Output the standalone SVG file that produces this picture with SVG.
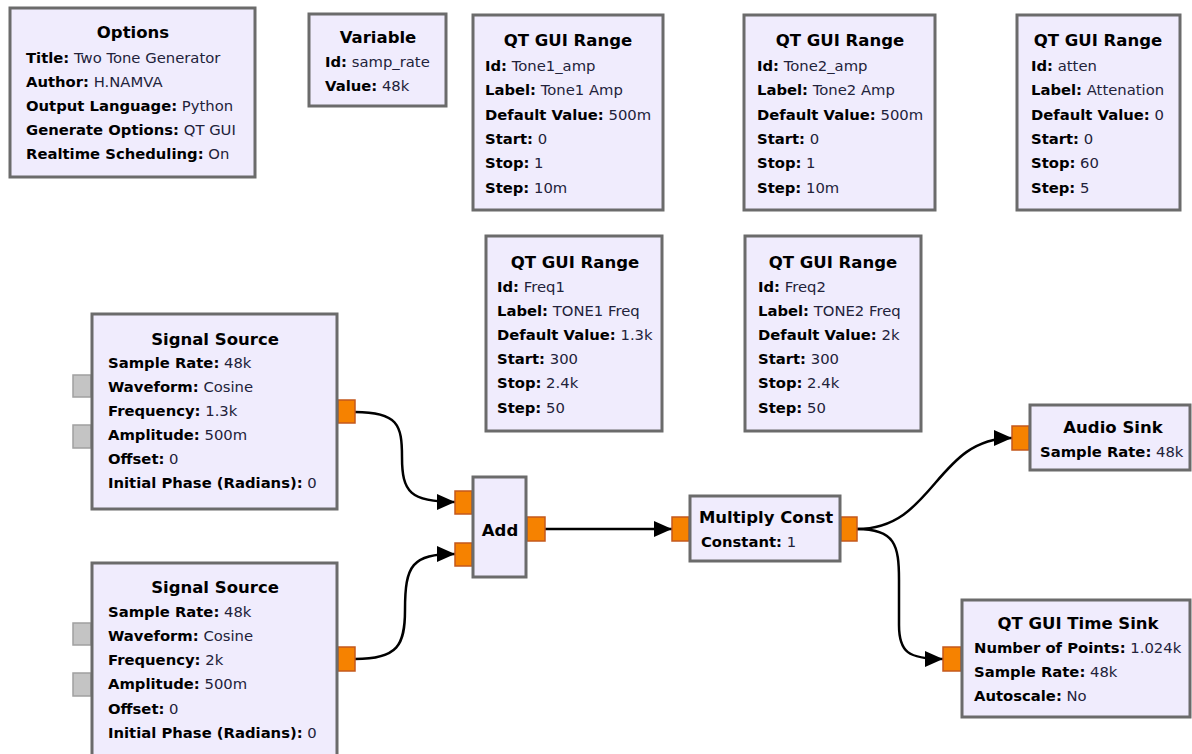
<svg xmlns="http://www.w3.org/2000/svg" width="1192" height="754" viewBox="0 0 1192 754">
<defs>
<style>
.blk{fill:#f0ecfd;stroke:#6b6b6b;stroke-width:3}
.t{font-family:"DejaVu Sans","Liberation Sans",sans-serif;font-size:16.5px;font-weight:bold;fill:#000;text-anchor:middle}
.l{font-family:"DejaVu Sans","Liberation Sans",sans-serif;font-size:14.8px;fill:#22223a}
.k{font-weight:bold;fill:#000}
.op{fill:#f68200;stroke:#c4581c;stroke-width:1.5}
.gp{fill:#c4c4c4;stroke:#a0a0a0;stroke-width:1.5}
.c{fill:none;stroke:#000;stroke-width:2.5;marker-end:url(#ah)}
</style>
<marker id="ah" markerUnits="userSpaceOnUse" markerWidth="18" markerHeight="16" refX="18" refY="8" orient="auto">
<path d="M0,0 L18,8 L0,16 z" fill="#000"/>
</marker>
</defs>
<rect width="1192" height="754" fill="#fff"/>

<g id="connectors">
<path class="c" d="M355,412 C398,412 402,425 402,457 C402,492 410,502 455,502"/>
<path class="c" d="M355,659 C398,659 405,645 405,610 C405,565 412,554 455,554"/>
<path class="c" d="M545,529 L672,529"/>
<path class="c" d="M857,529 C935,529 935,438 1012,438"/>
<path class="c" d="M857,529 C895,529 899,545 899,580 L899,625 C899,652 908,659 943,659"/>
</g>

<g id="options">
<rect class="blk" x="10" y="8" width="245" height="169"/>
<text class="t" x="133" y="38">Options</text>
<text class="l" x="26" y="63"><tspan class="k">Title:</tspan> Two Tone Generator</text>
<text class="l" x="26" y="87"><tspan class="k">Author:</tspan> H.NAMVA</text>
<text class="l" x="26" y="111"><tspan class="k">Output Language:</tspan> Python</text>
<text class="l" x="26" y="135"><tspan class="k">Generate Options:</tspan> QT GUI</text>
<text class="l" x="26" y="159"><tspan class="k">Realtime Scheduling:</tspan> On</text>
</g>

<g id="variable">
<rect class="blk" x="309" y="14" width="137" height="92"/>
<text class="t" x="378" y="43">Variable</text>
<text class="l" x="325" y="67"><tspan class="k">Id:</tspan> samp_rate</text>
<text class="l" x="325" y="91"><tspan class="k">Value:</tspan> 48k</text>
</g>

<g id="range_tone1">
<rect class="blk" x="473" y="15" width="190" height="195"/>
<text class="t" x="568" y="46">QT GUI Range</text>
<text class="l" x="485" y="71"><tspan class="k">Id:</tspan> Tone1_amp</text>
<text class="l" x="485" y="95"><tspan class="k">Label:</tspan> Tone1 Amp</text>
<text class="l" x="485" y="120"><tspan class="k">Default Value:</tspan> 500m</text>
<text class="l" x="485" y="144"><tspan class="k">Start:</tspan> 0</text>
<text class="l" x="485" y="168"><tspan class="k">Stop:</tspan> 1</text>
<text class="l" x="485" y="193"><tspan class="k">Step:</tspan> 10m</text>
</g>

<g id="range_tone2">
<rect class="blk" x="744" y="15" width="191" height="195"/>
<text class="t" x="840" y="46">QT GUI Range</text>
<text class="l" x="757" y="71"><tspan class="k">Id:</tspan> Tone2_amp</text>
<text class="l" x="757" y="95"><tspan class="k">Label:</tspan> Tone2 Amp</text>
<text class="l" x="757" y="120"><tspan class="k">Default Value:</tspan> 500m</text>
<text class="l" x="757" y="144"><tspan class="k">Start:</tspan> 0</text>
<text class="l" x="757" y="168"><tspan class="k">Stop:</tspan> 1</text>
<text class="l" x="757" y="193"><tspan class="k">Step:</tspan> 10m</text>
</g>

<g id="range_atten">
<rect class="blk" x="1017" y="15" width="163" height="195"/>
<text class="t" x="1098" y="46">QT GUI Range</text>
<text class="l" x="1031" y="71"><tspan class="k">Id:</tspan> atten</text>
<text class="l" x="1031" y="95"><tspan class="k">Label:</tspan> Attenation</text>
<text class="l" x="1031" y="120"><tspan class="k">Default Value:</tspan> 0</text>
<text class="l" x="1031" y="144"><tspan class="k">Start:</tspan> 0</text>
<text class="l" x="1031" y="168"><tspan class="k">Stop:</tspan> 60</text>
<text class="l" x="1031" y="193"><tspan class="k">Step:</tspan> 5</text>
</g>

<g id="range_freq1">
<rect class="blk" x="486" y="236" width="176" height="195"/>
<text class="t" x="575" y="268">QT GUI Range</text>
<text class="l" x="497" y="292"><tspan class="k">Id:</tspan> Freq1</text>
<text class="l" x="497" y="316"><tspan class="k">Label:</tspan> TONE1 Freq</text>
<text class="l" x="497" y="340"><tspan class="k">Default Value:</tspan> 1.3k</text>
<text class="l" x="497" y="364"><tspan class="k">Start:</tspan> 300</text>
<text class="l" x="497" y="388"><tspan class="k">Stop:</tspan> 2.4k</text>
<text class="l" x="497" y="413"><tspan class="k">Step:</tspan> 50</text>
</g>

<g id="range_freq2">
<rect class="blk" x="745" y="236" width="176" height="195"/>
<text class="t" x="833" y="268">QT GUI Range</text>
<text class="l" x="758" y="292"><tspan class="k">Id:</tspan> Freq2</text>
<text class="l" x="758" y="316"><tspan class="k">Label:</tspan> TONE2 Freq</text>
<text class="l" x="758" y="340"><tspan class="k">Default Value:</tspan> 2k</text>
<text class="l" x="758" y="364"><tspan class="k">Start:</tspan> 300</text>
<text class="l" x="758" y="388"><tspan class="k">Stop:</tspan> 2.4k</text>
<text class="l" x="758" y="413"><tspan class="k">Step:</tspan> 50</text>
</g>

<g id="signal_source_1">
<rect class="gp" x="73" y="375" width="18" height="22"/>
<rect class="gp" x="73" y="425" width="18" height="23"/>
<rect class="op" x="338" y="400" width="17" height="23"/>
<rect class="blk" x="92" y="314" width="245" height="195"/>
<text class="t" x="215" y="345">Signal Source</text>
<text class="l" x="108" y="368"><tspan class="k">Sample Rate:</tspan> 48k</text>
<text class="l" x="108" y="392"><tspan class="k">Waveform:</tspan> Cosine</text>
<text class="l" x="108" y="416"><tspan class="k">Frequency:</tspan> 1.3k</text>
<text class="l" x="108" y="440"><tspan class="k">Amplitude:</tspan> 500m</text>
<text class="l" x="108" y="464"><tspan class="k">Offset:</tspan> 0</text>
<text class="l" x="108" y="488"><tspan class="k">Initial Phase (Radians):</tspan> 0</text>
</g>

<g id="signal_source_2">
<rect class="gp" x="73" y="623" width="18" height="22"/>
<rect class="gp" x="73" y="673" width="18" height="23"/>
<rect class="op" x="338" y="647" width="17" height="24"/>
<rect class="blk" x="92" y="563" width="245" height="200"/>
<text class="t" x="215" y="593">Signal Source</text>
<text class="l" x="108" y="617"><tspan class="k">Sample Rate:</tspan> 48k</text>
<text class="l" x="108" y="641"><tspan class="k">Waveform:</tspan> Cosine</text>
<text class="l" x="108" y="665"><tspan class="k">Frequency:</tspan> 2k</text>
<text class="l" x="108" y="689"><tspan class="k">Amplitude:</tspan> 500m</text>
<text class="l" x="108" y="714"><tspan class="k">Offset:</tspan> 0</text>
<text class="l" x="108" y="738"><tspan class="k">Initial Phase (Radians):</tspan> 0</text>
</g>

<g id="add">
<rect class="op" x="455" y="491" width="17" height="23"/>
<rect class="op" x="455" y="543" width="17" height="23"/>
<rect class="op" x="527" y="517" width="18" height="24"/>
<rect class="blk" x="473" y="477" width="53" height="100"/>
<text class="t" x="500" y="536">Add</text>
</g>

<g id="multiply_const">
<rect class="op" x="672" y="517" width="17" height="24"/>
<rect class="op" x="841" y="517" width="16" height="24"/>
<rect class="blk" x="690" y="496" width="150" height="65"/>
<text class="t" x="766" y="523">Multiply Const</text>
<text class="l" x="701" y="547"><tspan class="k">Constant:</tspan> 1</text>
</g>

<g id="audio_sink">
<rect class="op" x="1012" y="426" width="17" height="24"/>
<rect class="blk" x="1030" y="405" width="160" height="65"/>
<text class="t" x="1113" y="433">Audio Sink</text>
<text class="l" x="1040" y="457"><tspan class="k">Sample Rate:</tspan> 48k</text>
</g>

<g id="time_sink">
<rect class="op" x="943" y="647" width="18" height="24"/>
<rect class="blk" x="962" y="600" width="228" height="117"/>
<text class="t" x="1078" y="629">QT GUI Time Sink</text>
<text class="l" x="974" y="653"><tspan class="k">Number of Points:</tspan> 1.024k</text>
<text class="l" x="974" y="677"><tspan class="k">Sample Rate:</tspan> 48k</text>
<text class="l" x="974" y="701"><tspan class="k">Autoscale:</tspan> No</text>
</g>
</svg>
